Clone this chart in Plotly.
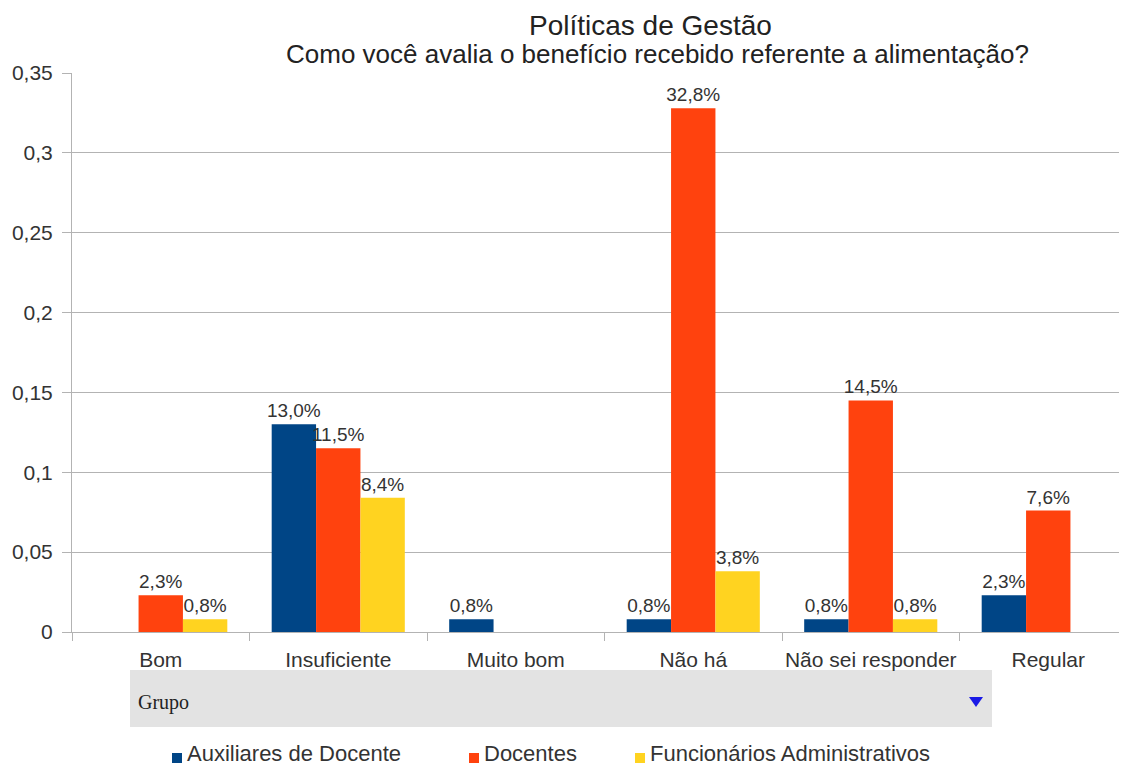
import plotly.graph_objects as go

categories = ["Bom", "Insuficiente", "Muito bom", "Não há", "Não sei responder", "Regular"]
series_names = ["Auxiliares de Docente", "Docentes", "Funcionários Administrativos"]
auxiliares = [None, 0.130, 0.008, 0.008, 0.008, 0.023]
docentes = [0.023, 0.115, None, 0.328, 0.145, 0.076]
funcionarios = [0.008, 0.084, None, 0.038, 0.008, None]
colors = ["#004586", "#ff420e", "#ffd320"]
y_ticks = [0, 0.05, 0.1, 0.15, 0.2, 0.25, 0.3, 0.35]

# the page body has an 8px default margin, so the figure is drawn 8px smaller
OFF = 8
W, H = 1127 - OFF, 769 - OFF
L, R, T, B = 72 - OFF, 0, 73 - OFF, 137
pw, ph = W - L - R, H - T - B


def px(x):  # x in screenshot pixels -> paper
    return (x - OFF - L) / pw


def py(y):  # y in screenshot pixels -> paper
    return (H - B - (y - OFF)) / ph


FONT = "Liberation Sans, Arial, sans-serif"
TXT = "#333333"

fig = go.Figure()
for name, vals, col in zip(series_names, [auxiliares, docentes, funcionarios], colors):
    fig.add_trace(go.Bar(
        name=name, x=categories, y=vals, marker=dict(color=col, line=dict(width=0)),
        texttemplate="%{y:.1%}", textposition="outside", cliponaxis=False,
        constraintext="none", showlegend=False,
        textfont=dict(size=19, color=TXT, family=FONT),
    ))

fig.update_layout(
    width=W, height=H, margin=dict(l=L, r=R, t=T, b=B),
    paper_bgcolor="white", plot_bgcolor="white",
    separators=",.",
    barmode="group", bargap=0.25, bargroupgap=0,
    font=dict(family=FONT, color=TXT, size=21),
    showlegend=False,
    xaxis=dict(range=[-0.5, -0.5 + pw / 177.5], showgrid=False, showline=True,
               linecolor="#b3b3b3", ticks="outside", tickson="boundaries", ticklen=8,
               ticklabelstandoff=9,
               tickcolor="#b3b3b3", tickfont=dict(size=21, color=TXT), tickangle=0,
               automargin=False, fixedrange=True),
    yaxis=dict(range=[0, 0.35], tickvals=y_ticks, showgrid=True, gridcolor="#b3b3b3",
               showline=True, linecolor="#b3b3b3", ticks="outside", ticklen=9,
               ticklabelstandoff=5,
               tickcolor="#b3b3b3", tickfont=dict(size=21, color=TXT), zeroline=False,
               automargin=False),
)

# legend (bottom, horizontal)
legend_sq_x = [172, 469, 635]
legend_y = 754
for name, col, sx in zip(series_names, colors, legend_sq_x):
    fig.add_shape(type="rect", xref="paper", yref="paper", x0=px(sx), x1=px(sx + 10),
                  y0=py(legend_y + 9), y1=py(legend_y - 1), fillcolor=col, line=dict(width=0))
    fig.add_annotation(text=name, xref="paper", yref="paper", x=px(sx + 13), y=py(legend_y),
                       xanchor="left", yanchor="middle", showarrow=False,
                       font=dict(size=22, color=TXT, family=FONT))

# pivot table field button "Grupo"
fig.add_shape(type="rect", xref="paper", yref="paper", x0=px(130), x1=px(992),
              y0=py(727), y1=py(670), fillcolor="#e3e3e3", line=dict(width=0), layer="below")
fig.add_annotation(text="Grupo", xref="paper", yref="paper", x=px(136), y=py(702),
                   xanchor="left", yanchor="middle", showarrow=False,
                   font=dict(family="Liberation Serif, Times New Roman, serif", size=20, color="#222222"))
tx0, tx1, tcx, ty0, ty1 = px(969), px(983), px(976), py(697), py(707)
fig.add_shape(type="path", xref="paper", yref="paper",
              path=f"M {tx0},{ty0} L {tx1},{ty0} L {tcx},{ty1} Z",
              fillcolor="#1a1ae6", line=dict(width=0))

# titles
fig.add_annotation(text="Políticas de Gestão", xref="paper", yref="paper", x=px(650), y=py(25),
                   xanchor="center", yanchor="middle", showarrow=False,
                   font=dict(size=28, color="#222222", family=FONT))
fig.add_annotation(text="Como você avalia o benefício recebido referente a alimentação?",
                   xref="paper", yref="paper", x=px(657), y=py(54),
                   xanchor="center", yanchor="middle", showarrow=False,
                   font=dict(size=26, color="#222222", family=FONT))

fig.write_html("out.html")
